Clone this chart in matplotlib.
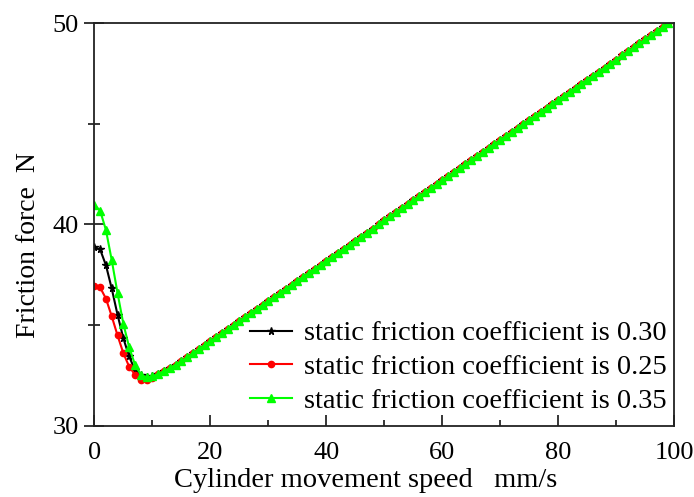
import matplotlib
matplotlib.use("Agg")
import matplotlib.pyplot as plt
from matplotlib.ticker import MultipleLocator

# speed (mm/s)
speed = list(range(0, 101))

# low-speed part (0..10 mm/s) for each static friction coefficient
low_030 = [38.86, 38.76, 37.98, 36.82, 35.52, 34.35, 33.44, 32.78, 32.53, 32.44, 32.47]
low_025 = [36.93, 36.87, 36.32, 35.44, 34.49, 33.61, 32.94, 32.54, 32.28, 32.28, 32.36]
low_035 = [40.97, 40.69, 39.73, 38.23, 36.60, 35.07, 33.91, 33.04, 32.54, 32.40, 32.45]

# common part (11..100 mm/s)
tail = [32.58, 32.71, 32.86, 33.03, 33.20, 33.40, 33.60, 33.80, 34.00, 34.20,
        34.40, 34.60, 34.80, 35.00, 35.20, 35.40, 35.60, 35.80, 36.00, 36.20,
        36.40, 36.60, 36.80, 37.00, 37.20, 37.40, 37.60, 37.80, 38.00, 38.20,
        38.40, 38.60, 38.80, 39.00, 39.20, 39.40, 39.60, 39.80, 40.00, 40.20,
        40.40, 40.60, 40.80, 41.00, 41.20, 41.40, 41.60, 41.80, 42.00, 42.20,
        42.40, 42.60, 42.80, 43.00, 43.20, 43.40, 43.60, 43.80, 44.00, 44.20,
        44.40, 44.60, 44.80, 45.00, 45.20, 45.40, 45.60, 45.80, 46.00, 46.20,
        46.40, 46.60, 46.80, 47.00, 47.20, 47.40, 47.60, 47.80, 48.00, 48.20,
        48.40, 48.60, 48.80, 49.00, 49.20, 49.40, 49.60, 49.80, 50.00, 50.20]

labels = ["static friction coefficient is 0.30",
          "static friction coefficient is 0.25",
          "static friction coefficient is 0.35"]

plt.rcParams['font.family'] = ['Liberation Serif', 'DejaVu Serif']

fig = plt.figure(figsize=(6.94, 4.97), dpi=100)
ax = fig.add_axes([0.1359, 0.1435, 0.9716 - 0.1359, 0.9531 - 0.1435])

ax.plot(speed, low_030 + tail, color='black', lw=1.5, marker='*', ms=5.5,
        label=labels[0])
ax.plot(speed, low_025 + tail, color='#ff0000', lw=1.5, marker='o', ms=4.5,
        label=labels[1])
ax.plot(speed, low_035 + tail, color='#00ff00', lw=1.5, marker='^', ms=6,
        label=labels[2])

ax.set_xlim(0, 100)
ax.set_ylim(30, 50)
ax.xaxis.set_major_locator(MultipleLocator(20))
ax.xaxis.set_minor_locator(MultipleLocator(10))
ax.yaxis.set_major_locator(MultipleLocator(10))
ax.yaxis.set_minor_locator(MultipleLocator(5))

ax.tick_params(axis='x', which='major', direction='in', length=8, width=1.1,
               labelsize=19, pad=12, top=False)
ax.tick_params(axis='x', which='minor', direction='in', length=4, width=1.1, top=False)
ax.tick_params(axis='y', which='major', direction='inout', length=14, width=1.1,
               labelsize=19, pad=4, right=False)
ax.tick_params(axis='y', which='minor', direction='inout', length=9, width=1.1, right=False)

for s in ax.spines.values():
    s.set_linewidth(1.3)
    s.set_color('#222222')

ax.set_xlabel("Cylinder movement speed   mm/s", fontsize=20.5)
ax.xaxis.set_label_coords(0.467, -0.136)
ax.xaxis.label.set_va('center')
ax.set_ylabel("Friction force  N", fontsize=20)
ax.yaxis.set_label_coords(-0.114, 0.45)
ax.yaxis.label.set_va('center')

leg = ax.legend(loc='lower right', bbox_to_anchor=(1.006, 0.0), frameon=False,
                fontsize=20.5, handlelength=1.5, handletextpad=0.4,
                labelspacing=0.28, borderaxespad=0.0)

fig.savefig("out.png", dpi=100)
